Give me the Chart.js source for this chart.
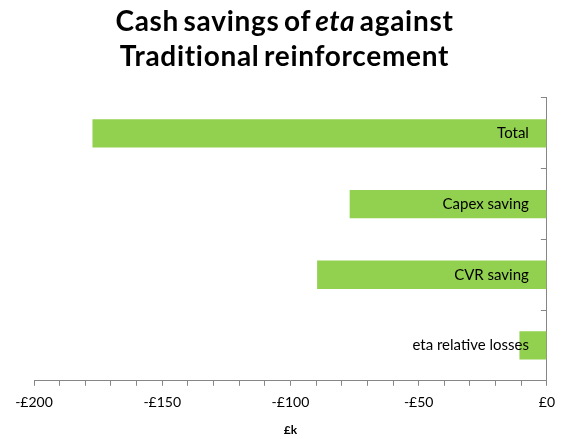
<!DOCTYPE html>
<html>
<head>
<meta charset="utf-8">
<script src="https://cdn.jsdelivr.net/npm/chart.js@4"></script>
<style>
  body { margin: 0; background: #fff; }
  #wrap { position: relative; width: 563px; height: 439px; }
  #title {
    position: absolute; left: 3px; top: 3px; width: 563px;
    text-align: center; font-family: Lato, sans-serif; font-weight: bold;
    font-size: 28px; line-height: 35px; color: #000; letter-spacing: 0.7px;
    word-spacing: -3px;
  }
</style>
</head>
<body>
<div id="wrap">
  <div id="title">Cash savings of <i>eta</i> against<br>Traditional reinforcement</div>
  <canvas id="myChart" width="563" height="439"></canvas>
</div>
<script>
const categories = ['Total', 'Capex saving', 'CVR saving', 'eta relative losses'];
const savings = [-177.2, -76.9, -89.6, -10.7];
const xTickLabels = { '-200': '-£200', '-150': '-£150', '-100': '-£100', '-50': '-£50', '0': '£0' };

const axisGrey = '#868686';

const ctx = document.getElementById('myChart').getContext('2d');
const myChart = new Chart(ctx, {
    type: 'bar',
    data: {
        labels: categories,
        datasets: [{
            data: savings,
            backgroundColor: '#92D050',
            borderWidth: 0,
            barPercentage: 0.4,
            categoryPercentage: 1
        }]
    },
    options: {
        indexAxis: 'y',
        responsive: false,
        animation: false,
        layout: {
            padding: { top: 98, left: 34, right: 16, bottom: 2 }
        },
        scales: {
            x: {
                min: -200,
                max: 0,
                grid: {
                    drawOnChartArea: false,
                    color: axisGrey,
                    tickLength: 5
                },
                border: { color: axisGrey },
                ticks: {
                    stepSize: 10,
                    autoSkip: false,
                    maxRotation: 0,
                    padding: 8,
                    color: '#000',
                    font: { family: 'Lato', size: 14 },
                    callback: (v) => xTickLabels[String(v)] || ''
                },
                title: {
                    display: true,
                    text: '£k',
                    color: '#000',
                    padding: { top: 4, bottom: 0 },
                    font: { family: 'Lato', size: 12, weight: 'bold' }
                }
            },
            y: {
                position: 'right',
                grid: {
                    drawOnChartArea: false,
                    color: axisGrey,
                    tickLength: -6,
                    offset: true
                },
                border: { color: axisGrey },
                ticks: {
                    z: 1,
                    mirror: true,
                    padding: -18,
                    color: '#000',
                    font: { family: 'Lato', size: 15 }
                }
            }
        },
        plugins: {
            legend: { display: false },
            tooltip: { enabled: false }
        }
    }
});
</script>
</body>
</html>
